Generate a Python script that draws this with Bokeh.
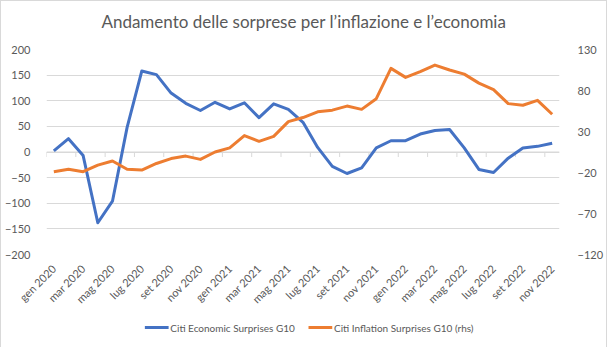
import math
from bokeh.plotting import figure
from bokeh.layouts import column
from bokeh.models import Range1d, LinearAxis, FixedTicker, ColumnDataSource
from bokeh.core.properties import value
from bokeh.embed import file_html
from bokeh.resources import INLINE

# ---- data ----
title_text = "Andamento delle sorprese per l\u2019inflazione e l\u2019economia"
months = ["gen", "feb", "mar", "apr", "mag", "giu", "lug", "ago", "set", "ott", "nov", "dic"]
years = [2020, 2021, 2022]
month_labels = [f"{m} {y}" for y in years for m in months][:35]  # gen 2020 .. nov 2022

econ_surprises = [2, 26, -7, -138, -96, 48, 158, 151, 115, 95, 81, 97, 84, 96, 67, 94,
                  83, 58, 9, -28, -42, -31, 8, 22, 22, 35, 42, 44, 8, -34, -40, -12,
                  8, 11, 17]
infl_surprises = [-19, -16, -19, -11, -6, -16, -17, -9, -3, 0, -4, 5, 10, 25, 18, 24,
                  42, 47, 54, 56, 61, 57, 70, 107, 96, 103, 111, 105, 100, 89, 81, 64,
                  62, 68, 51]
series_names = ["Citi Economic Surprises G10", "Citi Inflation Surprises G10 (rhs)"]

left_ticks = [-200, -150, -100, -50, 0, 50, 100, 150, 200]
right_ticks = [-120, -70, -20, 30, 80, 130]

TXT = "#595959"
GRID = "#d9d9d9"
BLUE = "#4472C4"
ORANGE = "#ED7D31"
FONT = "Lato"
W = 605


def strip(h):
    f = figure(width=W, height=h, output_backend="svg", toolbar_location=None,
               x_axis_type=None, y_axis_type=None,
               x_range=Range1d(0, W), y_range=Range1d(0, h),
               min_border_left=0, min_border_right=0, min_border_top=0, min_border_bottom=0)
    f.grid.visible = False
    f.outline_line_color = None
    f.border_fill_color = "white"
    f.background_fill_color = "white"
    return f


# ---- title strip ----
TH = 30
t = strip(TH)
t.text(x=[W / 2 + 1], y=[TH - 20], text=[title_text], text_align="center",
       text_baseline="middle", text_font=value(FONT), text_font_size="17px",
       text_color=TXT)

# ---- main chart ----
idx = list(range(len(month_labels)))
src = ColumnDataSource(dict(x=idx, econ=econ_surprises, infl=infl_surprises))

PH = 283
p = figure(width=W, height=PH, output_backend="svg", toolbar_location=None,
           x_range=Range1d(-0.5, len(idx) - 0.5),
           y_range=Range1d(left_ticks[0], left_ticks[-1]),
           min_border_left=41, min_border_right=43, min_border_top=18, min_border_bottom=60)
p.extra_y_ranges = {"rhs": Range1d(right_ticks[0], right_ticks[-1])}
p.outline_line_color = None
p.background_fill_color = "white"
p.border_fill_color = "white"

p.xgrid.visible = False
p.ygrid.ticker = FixedTicker(ticks=left_ticks)
p.ygrid.grid_line_color = GRID
p.ygrid.grid_line_width = 1

ya = p.yaxis[0]
ya.ticker = FixedTicker(ticks=left_ticks)
ya.axis_line_color = None
ya.major_tick_line_color = None
ya.minor_tick_line_color = None
ya.major_label_text_font = FONT
ya.major_label_text_font_size = "11px"
ya.major_label_text_color = TXT
ya.major_label_standoff = 10

ra = LinearAxis(y_range_name="rhs", ticker=FixedTicker(ticks=right_ticks))
ra.axis_line_color = None
ra.major_tick_line_color = None
ra.minor_tick_line_color = None
ra.major_label_text_font = FONT
ra.major_label_text_font_size = "11px"
ra.major_label_text_color = TXT
ra.major_label_standoff = 12
p.add_layout(ra, "right")

xa = p.xaxis[0]
label_idx = idx[::2]
xa.ticker = FixedTicker(ticks=label_idx)
xa.major_label_overrides = {i: month_labels[i] for i in label_idx}
xa.major_label_orientation = math.pi / 4
xa.axis_line_color = None
xa.major_tick_line_color = None
xa.minor_tick_line_color = None
xa.major_label_text_font = FONT
xa.major_label_text_font_size = "11px"
xa.major_label_text_color = TXT
xa.major_label_standoff = 6

# zero line with tick marks (category axis crossing at 0)
p.line([-0.5, len(idx) - 0.5], [0, 0], line_color=GRID, line_width=1)
tick_len = (left_ticks[-1] - left_ticks[0]) / 205 * 5
bx = [i - 0.5 for i in range(0, len(idx) + 1, 2)]
p.segment(x0=bx, x1=bx, y0=[0] * len(bx), y1=[-tick_len] * len(bx),
          line_color=GRID, line_width=1)

p.line("x", "econ", source=src, line_color=BLUE, line_width=3, line_join="round")
p.line("x", "infl", source=src, line_color=ORANGE, line_width=3, line_join="round",
       y_range_name="rhs")

# ---- legend strip ----
LH = 33
q = strip(LH)
ly = LH - 13
sw_x0 = [116, 309]
sw_len = 28
q.segment(x0=sw_x0, x1=[v + sw_len for v in sw_x0], y0=[ly, ly], y1=[ly, ly],
          line_color=[BLUE, ORANGE], line_width=3)
q.text(x=[v + sw_len + 2 for v in sw_x0], y=[ly, ly], text=series_names,
       text_align="left", text_baseline="middle", text_font=value(FONT),
       text_font_size="10px", text_color=TXT)

layout = column(t, p, q, spacing=0)
layout.styles = {"border": "1px solid #d9d9d9"}

open("out.html", "w").write(file_html(layout, INLINE))
